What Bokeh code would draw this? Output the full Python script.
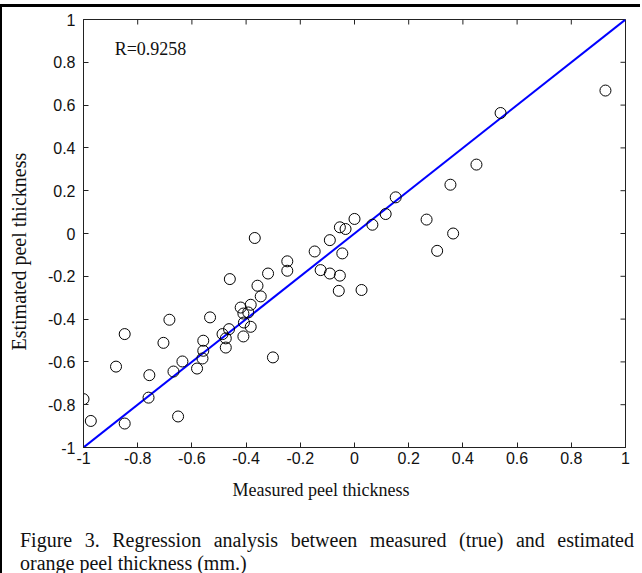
import math
from bokeh.plotting import figure
from bokeh.models import Range1d, FixedTicker, Div, Label, Title
from bokeh.layouts import column
from bokeh.embed import file_html
from bokeh.resources import INLINE

# ---- data ----
measured = [-1.0, -0.973, -0.848, -0.848, -0.88, -0.757, -0.76, -0.683, -0.705, -0.668,
            -0.635, -0.651, -0.581, -0.558, -0.558, -0.561, -0.533, -0.487, -0.475, -0.475,
            -0.463, -0.46, -0.42, -0.41, -0.408, -0.41, -0.383, -0.383, -0.392, -0.368,
            -0.358, -0.346, -0.319, -0.301, -0.248, -0.248, -0.147, -0.125, -0.091, -0.091,
            -0.054, -0.058, -0.045, -0.054, -0.033, 0.0, 0.026, 0.926, 0.539, 0.45,
            0.354, 0.152, 0.115, 0.066, 0.266, 0.364, 0.305]
estimated = [-0.774, -0.876, -0.888, -0.47, -0.622, -0.662, -0.767, -0.403, -0.511, -0.645,
             -0.598, -0.855, -0.631, -0.501, -0.548, -0.584, -0.392, -0.47, -0.49, -0.533,
             -0.447, -0.213, -0.346, -0.374, -0.416, -0.481, -0.333, -0.436, -0.369, -0.021,
             -0.244, -0.294, -0.187, -0.579, -0.13, -0.174, -0.084, -0.171, -0.031, -0.187,
             -0.197, -0.268, -0.093, 0.029, 0.021, 0.068, -0.264, 0.668, 0.563, 0.322,
             0.228, 0.169, 0.091, 0.041, 0.065, 0.0, -0.081]
fit_x = [-1.0, 1.0]
fit_y = [-1.0, 1.0]
tick_values = [-1, -0.8, -0.6, -0.4, -0.2, 0, 0.2, 0.4, 0.6, 0.8, 1]
tick_labels = ["-1", "-0.8", "-0.6", "-0.4", "-0.2", "0", "0.2", "0.4", "0.6", "0.8", "1"]
r_text = "R=0.9258"
x_label = "Measured peel thickness"
y_label = "Estimated peel thickness"
caption_line1 = "Figure 3. Regression analysis between measured (true) and estimated"
caption_line2 = "orange peel thickness (mm.)"

SANS = "Liberation Sans"
SERIF = "Liberation Serif"
AX = "#222222"

p = figure(frame_width=542, frame_height=428,
           x_range=Range1d(-1, 1), y_range=Range1d(-1, 1),
           output_backend="svg", toolbar_location=None,
           min_border_left=90, min_border_right=6, min_border_top=12, min_border_bottom=70,
           background_fill_color="white", border_fill_color=None,
           styles={"position": "relative", "left": "-9px"})
p.grid.visible = False
p.outline_line_color = AX
p.outline_line_width = 1

overrides = {v: l for v, l in zip(tick_values, tick_labels)}

for ax in list(p.xaxis) + list(p.yaxis):
    ax.ticker = FixedTicker(ticks=tick_values)
    ax.major_label_overrides = overrides
    ax.major_tick_in = 5
    ax.major_tick_out = 0
    ax.minor_tick_in = 0
    ax.minor_tick_out = 0
    ax.axis_line_color = AX
    ax.major_tick_line_color = AX
    ax.major_label_text_font = SANS
    ax.major_label_text_font_size = "16px"
    ax.major_label_text_color = "#111111"

p.xaxis.major_label_standoff = 4
p.yaxis.major_label_standoff = 8

# inward tick marks on the top and right edges of the box (clipped to the frame)
p.scatter(tick_values, [1] * len(tick_values), marker="dash", angle=math.pi / 2,
          size=10, line_color=AX, line_width=1)
p.scatter([1] * len(tick_values), tick_values, marker="dash", angle=0,
          size=10, line_color=AX, line_width=1)

p.line(fit_x, fit_y, line_color="#0000ff", line_width=2)
p.scatter(measured, estimated, marker="circle", size=11, fill_color=None,
          line_color="black", line_width=1)

p.add_layout(Label(x=-0.885, y=0.86, text=r_text, text_font=SERIF,
                   text_font_size="18px", text_baseline="middle", text_align="left",
                   text_color="#111111"))

# axis titles, placed off-centre as in the reference
p.add_layout(Title(text=x_label, align="left", offset=149, standoff=22,
                   text_font=SERIF, text_font_size="18px", text_font_style="normal",
                   text_color="#111111"), "below")
p.add_layout(Title(text=y_label, align="left", offset=97, standoff=26,
                   vertical_align="top",
                   text_font=SERIF, text_font_size="20px", text_font_style="normal",
                   text_color="#111111"), "left")

caption_html = (
    f'<div style="width:614px;font-family:\'{SERIF}\';font-size:20px;line-height:23px;color:#111;">'
    f'<div style="width:614px;text-align:justify;text-align-last:justify;">{caption_line1}</div>'
    f'<div>{caption_line2}</div></div>'
)
div = Div(text=caption_html, width=614, height=44, margin=(12, 0, 0, 18))

layout = column(p, div, spacing=0, margin=(4, 0, 0, 0),
                styles={"border-left": "2px solid black", "border-top": "3px solid black"})

open("out.html", "w").write(file_html(layout, INLINE))
